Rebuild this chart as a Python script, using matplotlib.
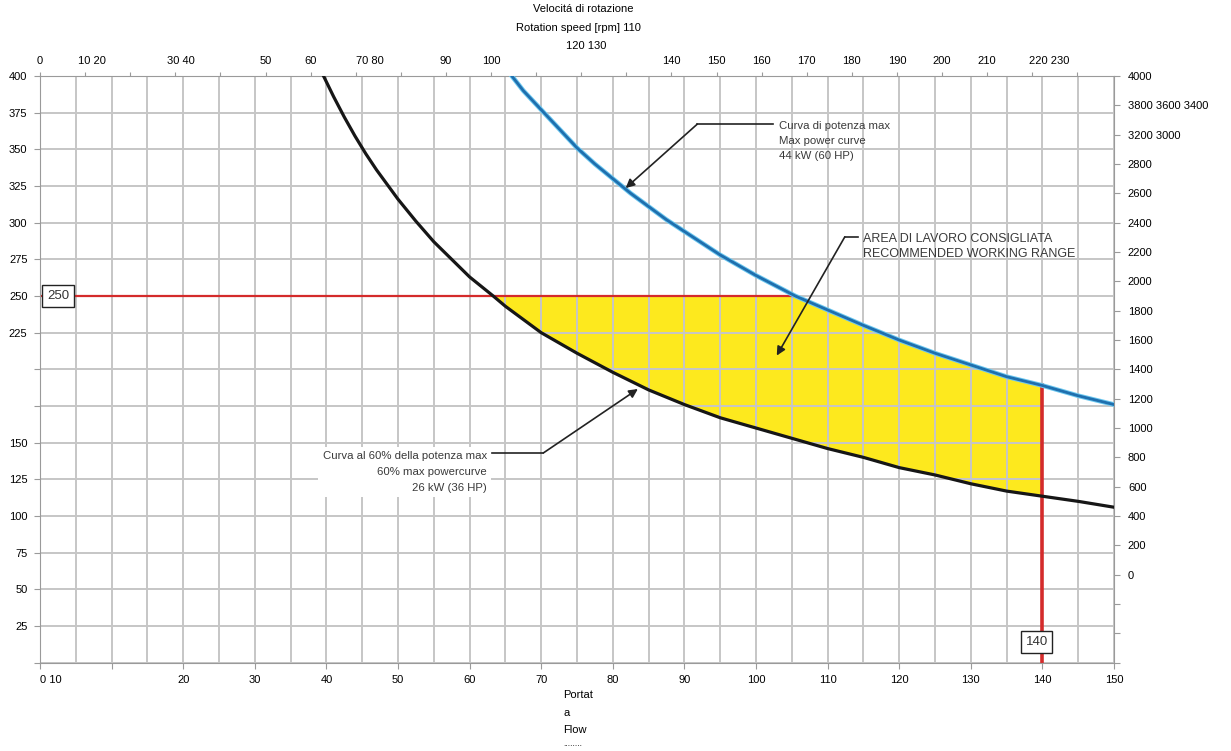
import numpy as np
import matplotlib.pyplot as plt
from matplotlib.transforms import ScaledTranslation

plt.rcParams["font.family"] = ["Liberation Sans", "DejaVu Sans"]

# ============================
# data
# ============================

# 60% max power curve (black)
black_q = [39.6, 41, 42.5, 44, 45.5, 47, 48.5, 50, 52.5, 55, 57.5, 60, 63.3,
           65, 67.5, 70, 75, 80, 85, 90, 95, 100, 105, 110, 115, 120, 125,
           130, 135, 140, 145, 150]
black_h = [400, 386, 372, 359, 347, 336, 326, 316, 301, 287, 275, 263, 250,
           243, 234, 225, 211, 198, 186, 176, 167, 160, 153, 146, 140, 133,
           128, 122, 117, 113.5, 110, 106]

# max power curve (blue)
blue_q = [65.9, 67.5, 70, 72.5, 75, 77.5, 80, 82.5, 85, 87.5, 90, 92.5, 95,
          97.5, 100, 105.5, 110, 115, 120, 125, 130, 135, 140, 145, 150]
blue_h = [400, 390, 377, 364, 351, 340, 330, 320, 311, 302, 294, 286, 278,
          271, 264, 250, 240.5, 230, 220, 211, 203, 195, 189, 182, 176]

pressure_limit = 250
flow_limit = 140
q_low = 63.3      # black curve meets 250
q_high = 105.5    # blue curve meets 250

# axis tick labels (as printed on the original)
bottom_ticks = list(range(0, 151, 10))
bottom_labels = ["0 10", "", "20", "30", "40", "50", "60", "70", "80", "90",
                 "100", "110", "120", "130", "140", "150"]

left_ticks = list(range(0, 401, 25))
left_labels = ["", "25", "50", "75", "100", "125", "150", "", "", "225",
               "250", "275", "300", "325", "350", "375", "400"]

rpm_ticks = list(range(0, 231, 10))
rpm_labels = ["0", "10 20", "", "30 40", "", "50", "60", "70 80", "", "90",
              "100", "", "", "", "140", "150", "160", "170", "180", "190",
              "200", "210", "220 230", ""]

right_labels = ["", "", "", "0", "200", "400", "600", "800", "1000", "1200",
                "1400", "1600", "1800", "2000", "2200", "2400", "2600",
                "2800", "3200 3000", "3800 3600 3400", "4000"]

# ============================
# figure
# ============================

fig = plt.figure(figsize=(12.31, 7.51), dpi=100)
ax = fig.add_axes([40 / 1231, 88.3 / 751, 1074 / 1231, 586.7 / 751])

ax.set_xlim(0, 150)
ax.set_ylim(0, 400)

grid_c = "#c6c6c6"
spine_c = "#9a9a9a"

ax.set_axisbelow(True)
ax.set_xticks(bottom_ticks)
ax.set_xticklabels(bottom_labels)
ax.set_xticks(np.arange(0, 151, 5), minor=True)
ax.set_yticks(left_ticks)
ax.set_yticklabels(left_labels)
ax.grid(True, which="both", color=grid_c, linewidth=1.4)
ax.tick_params(which="minor", length=0)
ax.tick_params(which="major", length=4, color=spine_c, labelsize=8, pad=5)
ax.get_xticklabels()[0].set_horizontalalignment("left")
for s in ax.spines.values():
    s.set_color(spine_c)

# working range (yellow)
bq = np.array(black_q)
bh = np.array(black_h)
uq = np.array(blue_q)
uh = np.array(blue_h)
low_m = (bq >= q_low) & (bq <= flow_limit)
up_m = (uq >= q_high) & (uq <= flow_limit)
poly_x = np.concatenate([[q_low], uq[up_m], bq[low_m][::-1]])
poly_y = np.concatenate([[pressure_limit], uh[up_m], bh[low_m][::-1]])
ax.fill(poly_x, poly_y, color="#fde91e", zorder=0.3, linewidth=0)

# red limit lines
ax.plot([0, q_high], [pressure_limit, pressure_limit], color="#d42b2b", lw=1.6, zorder=2)
ax.plot([flow_limit, flow_limit], [0, uh[uq == flow_limit][0]], color="#d42b2b", lw=2.6, zorder=2)

# curves
ax.plot(blue_q, blue_h, color="#6cc8f0", lw=3.4, zorder=3)
ax.plot(blue_q, blue_h, color="#1f6fae", lw=2.0, zorder=3.1)
ax.plot(black_q, black_h, color="#161616", lw=2.3, zorder=3)

# value boxes
ax.text(2.5, pressure_limit, "250", ha="center", va="center", fontsize=9.5,
        color="#333333", zorder=5,
        bbox=dict(boxstyle="square,pad=0.35", fc="white", ec="#222222", lw=1))
ax.text(139.2, 14.1, "140", ha="center", va="center", fontsize=9.5,
        color="#333333", zorder=5,
        bbox=dict(boxstyle="square,pad=0.35", fc="white", ec="#222222", lw=1))

# annotations
arr = dict(arrowstyle="-|>", color="#222222", lw=1.2, mutation_scale=13,
           shrinkA=0, shrinkB=0)
ann_c = "#3a3a3a"

ax.plot([102.4, 91.8], [367.2, 367.2], color="#222222", lw=1.2, zorder=4)
ax.annotate("", xy=(81.8, 323.6), xytext=(91.8, 367.2), arrowprops=arr, zorder=4)
ax.text(103.2, 355.8, "Curva di potenza max\nMax power curve\n44 kW (60 HP)",
        ha="left", va="center", fontsize=8.2, color=ann_c, linespacing=1.59,
        zorder=4)

ax.plot([114.2, 112.4], [290.3, 290.3], color="#222222", lw=1.2, zorder=4)
ax.annotate("", xy=(102.9, 209.4), xytext=(112.4, 290.3), arrowprops=arr, zorder=4)
ax.text(114.9, 283.7, "AREA DI LAVORO CONSIGLIATA\nRECOMMENDED WORKING RANGE",
        ha="left", va="center", fontsize=9, color=ann_c, linespacing=1.39,
        zorder=4)

ax.plot([63.1, 70.3], [143, 143], color="#222222", lw=1.2, zorder=4)
ax.annotate("", xy=(83.5, 186.6), xytext=(70.3, 143), arrowprops=arr, zorder=4)
ax.text(62.4, 130, "Curva al 60% della potenza max\n60% max powercurve\n26 kW (36 HP)",
        ha="right", va="center", ma="right", fontsize=8.2, color=ann_c,
        linespacing=1.76, zorder=4,
        bbox=dict(fc="white", ec="none", pad=3))

# top axis: rotation speed
ax_top = ax.twiny()
ax_top.set_xlim(0, 1074 / 45.1 * 10)
ax_top.set_xticks(rpm_ticks)
ax_top.set_xticklabels(rpm_labels)
ax_top.tick_params(length=3, color=spine_c, labelsize=8, pad=4)
for s in ax_top.spines.values():
    s.set_visible(False)
shift = {"10 20": 7, "30 40": 6, "70 80": 14, "220 230": 17}
for lab in ax_top.get_xticklabels():
    if lab.get_text() in shift:
        dx = shift[lab.get_text()] / 100
        lab.set_transform(lab.get_transform() + ScaledTranslation(dx, 0, fig.dpi_scale_trans))

# right axis
ax_r = ax.twinx()
ax_r.set_ylim(0, 20)
ax_r.set_yticks(range(21))
ax_r.set_yticklabels(right_labels)
ax_r.tick_params(length=4, color=spine_c, labelsize=8, pad=6)
for s in ax_r.spines.values():
    s.set_visible(False)

# titles
fig.text(583 / 1231, 1 - 9 / 751, "Velocitá di rotazione", ha="center", va="center", fontsize=8)
fig.text(578 / 1231, 1 - 28 / 751, "Rotation speed [rpm] 110", ha="center", va="center", fontsize=8)
fig.text(586 / 1231, 1 - 46 / 751, "120 130", ha="center", va="center", fontsize=8)

fig.text(563 / 1231, 1 - 695 / 751, "Portat", ha="left", va="center", fontsize=8)
fig.text(563 / 1231, 1 - 713 / 751, "a", ha="left", va="center", fontsize=8)
fig.text(563 / 1231, 1 - 730 / 751, "Flow", ha="left", va="center", fontsize=8)
fig.text(563 / 1231, 1 - 744 / 751, "........", ha="left", va="center", fontsize=6)

fig.savefig("out.png", dpi=100)
